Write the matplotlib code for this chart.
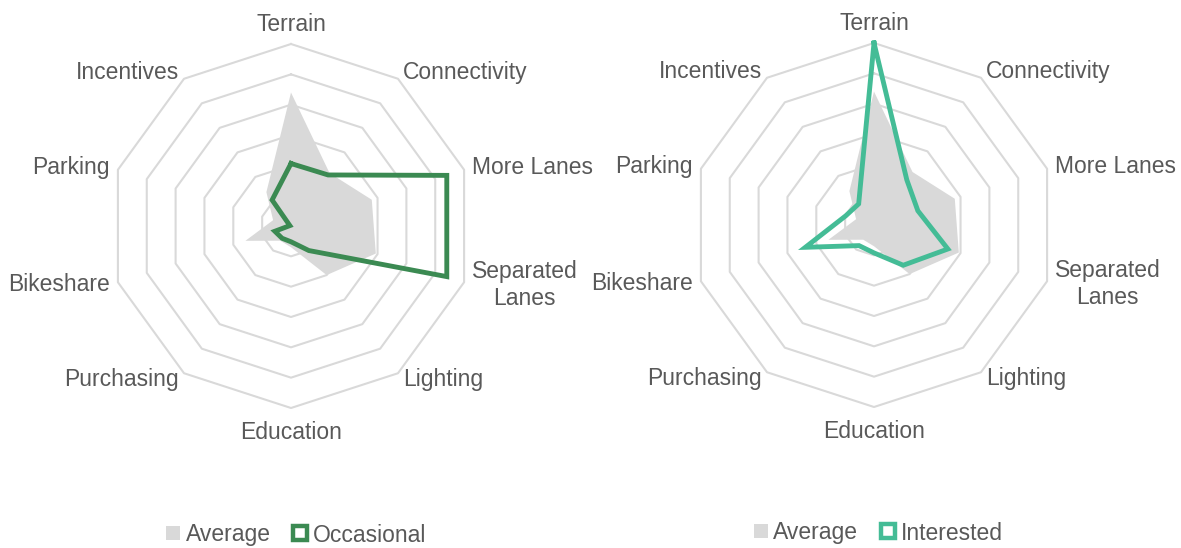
import numpy as np
import matplotlib.pyplot as plt
from matplotlib.lines import Line2D

plt.rcParams['font.family'] = ['Liberation Sans', 'DejaVu Sans']

categories = ['Terrain', 'Connectivity', 'More Lanes', 'Separated\nLanes', 'Lighting',
              'Education', 'Purchasing', 'Bikeshare', 'Parking', 'Incentives']
average = [0.22, 0.108, 0.14, 0.147, 0.10, 0.035, 0.03, 0.079, 0.031, 0.069]
occasional = [0.103, 0.104, 0.27, 0.27, 0.05, 0.026, 0.025, 0.028, 0.002, 0.053]
interested = [0.30, 0.092, 0.076, 0.128, 0.082, 0.046, 0.042, 0.119, 0.049, 0.043]
ring_values = [0.05, 0.10, 0.15, 0.20, 0.25, 0.30]

grid_col = '#d9d9d9'
text_col = '#595959'
W, H = 1181, 548

fig = plt.figure(figsize=(W / 100, H / 100), dpi=100)
angles = np.linspace(0, 2 * np.pi, len(categories), endpoint=False)
closed = np.append(angles, angles[0])


def radar(cx, cy, series, color, name, leg_x, leg_y):
    rpx = 182
    ax = fig.add_axes([(cx - rpx) / W, (H - cy - rpx) / H, 2 * rpx / W, 2 * rpx / H],
                      projection='polar')
    ax.set_theta_zero_location('N')
    ax.set_theta_direction(-1)
    ax.set_ylim(0, ring_values[-1])
    ax.grid(False)
    ax.spines['polar'].set_visible(False)
    ax.set_xticks([])
    ax.set_yticks([])
    ax.patch.set_alpha(0)
    for r in ring_values:
        ax.plot(closed, [r] * len(closed), color=grid_col, lw=1.5, zorder=1, clip_on=False)
    ax.fill(closed, average + average[:1], color=grid_col, lw=0, zorder=2)
    ax.plot(closed, series + series[:1], color=color, lw=3.5, zorder=3, clip_on=False,
            solid_joinstyle='miter')
    rl = ring_values[-1] * 1.045
    for a, lab in zip(angles, categories):
        s = np.sin(a)
        r = rl
        if abs(s) < 1e-6:
            ha = 'center'
            if np.cos(a) > 0:
                va = 'bottom'
            else:
                va = 'top'
                r = ring_values[-1] * 1.07
        else:
            ha = 'left' if s > 0 else 'right'
            va = 'center'
        ax.text(a, r, lab, ha=ha, va=va, multialignment='center',
                fontsize=16.5, color=text_col)
    handles = [Line2D([], [], ls='none', marker='s', markersize=10,
                      markerfacecolor=grid_col, markeredgewidth=0),
               Line2D([], [], ls='none', marker='s', markersize=10,
                      markerfacecolor='white', markeredgecolor=color, markeredgewidth=3.2)]
    fig.legend(handles, ['Average', name], loc='center',
               bbox_to_anchor=(leg_x / W, 1 - leg_y / H), ncol=2, frameon=False,
               fontsize=16.5, labelcolor=text_col, handlelength=0.8,
               handletextpad=0.15, columnspacing=0.9)


radar(291, 226, occasional, '#3b8a52', 'Occasional', 295, 535)
radar(874, 225, interested, '#44bc96', 'Interested', 877, 533)

fig.savefig('out.png', dpi=100)
